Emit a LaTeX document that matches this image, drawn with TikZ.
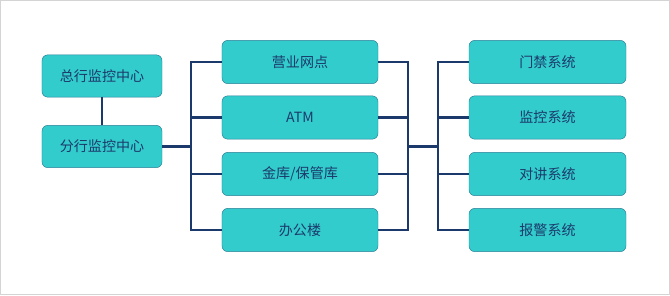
\documentclass[tikz,border=0pt]{standalone}
\usepackage{fontspec}
\setmainfont{Liberation Sans}
\newfontfamily\cjk{Noto Sans CJK SC}
\usetikzlibrary{positioning}
\definecolor{boxfill}{HTML}{33CCCC}
\definecolor{boxedge}{HTML}{2A7F96}
\definecolor{navy}{HTML}{1B3A6B}
\definecolor{framegray}{HTML}{D4D4D4}

\begin{document}
\begin{tikzpicture}[x=0.03cm, y=-0.03cm,
    box/.style={draw=boxedge, fill=boxfill, rounded corners=5pt, text=navy, font=\cjk\fontsize{12}{14}\selectfont, inner sep=2pt},
    center/.style={box, minimum width=3.6cm, minimum height=1.27cm},
    site/.style={box, minimum width=4.68cm, minimum height=1.3cm},
    system/.style={box, minimum width=4.71cm, minimum height=1.3cm},
    wire/.style={draw=navy, line width=2pt}
  ]
    \useasboundingbox (0,0) rectangle (670,295);
    \draw[framegray] (0.5,0.5) rectangle (669.5,294.5);
    % monitoring centres
    \node[center] (hq) at (102,76) {总行监控中心};
    \node[center] (branch) at (102,146.5) {分行监控中心};
    % sites
    \node[site] (outlet) at (300,62) {营业网点};
    \node[site] (atm) at (300,117.5) {ATM};
    \node[site] (vault) at (300,174) {金库/保管库};
    \node[site] (office) at (300,230) {办公楼};
    % subsystems
    \node[system] (door) at (547.5,62) {门禁系统};
    \node[system] (video) at (547.5,117.5) {监控系统};
    \node[system] (intercom) at (547.5,174) {对讲系统};
    \node[system] (alarm) at (547.5,230) {报警系统};
    % buses
    \coordinate (lbus) at (191,146.5);
    \coordinate (mbus) at (408,146.5);
    \coordinate (rbus) at (438,146.5);
    \draw[wire] (hq) -- (branch);
    \foreach \n in {outlet,atm,vault,office}
      \draw[wire] (branch.east) -- (lbus) |- (\n.west);
    \foreach \n in {outlet,atm,vault,office}
      \draw[wire] (\n.east) -| (mbus) -- (rbus);
    \foreach \s in {door,video,intercom,alarm}
      \draw[wire] (rbus) |- (\s.west);
  \end{tikzpicture}
\end{document}
